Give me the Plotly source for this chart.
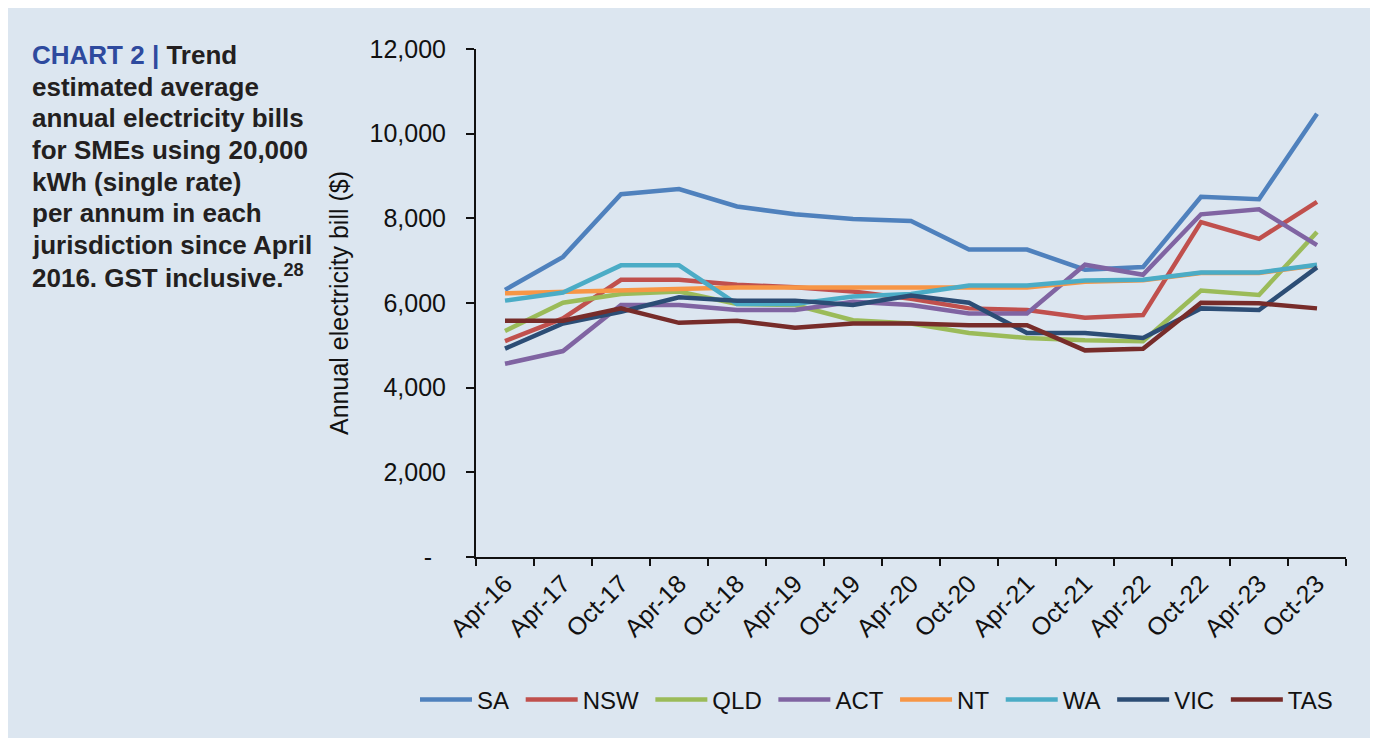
import plotly.graph_objects as go

categories = ["Apr-16", "Apr-17", "Oct-17", "Apr-18", "Oct-18", "Apr-19", "Oct-19", "Apr-20",
              "Oct-20", "Apr-21", "Oct-21", "Apr-22", "Oct-22", "Apr-23", "Oct-23"]

sa  = [6310, 7090, 8570, 8690, 8280, 8095, 7985, 7936, 7262, 7262, 6786, 6849, 8508, 8452, 10470]
nsw = [5100, 5635, 6548, 6548, 6430, 6373, 6270, 6100, 5873, 5833, 5651, 5714, 7913, 7516, 8389]
qld = [5340, 6008, 6214, 6270, 5976, 5952, 5595, 5516, 5293, 5175, 5119, 5095, 6294, 6190, 7675]
act = [4564, 4865, 5952, 5952, 5833, 5833, 6032, 5952, 5754, 5754, 6905, 6667, 8095, 8214, 7365]
nt  = [6230, 6270, 6310, 6326, 6365, 6365, 6365, 6365, 6365, 6365, 6500, 6540, 6710, 6710, 6890]
wa  = [6056, 6246, 6889, 6889, 5976, 5976, 6151, 6214, 6413, 6413, 6532, 6548, 6722, 6722, 6905]
vic = [4921, 5516, 5794, 6135, 6056, 6056, 5952, 6175, 6008, 5293, 5293, 5175, 5873, 5833, 6841]
tas = [5579, 5579, 5873, 5532, 5579, 5413, 5516, 5516, 5476, 5476, 4881, 4921, 6008, 5992, 5873]

series = [("SA", sa, "#4f81bd"), ("NSW", nsw, "#c0504d"), ("QLD", qld, "#9bbb59"),
          ("ACT", act, "#8064a2"), ("NT", nt, "#f79646"), ("WA", wa, "#4bacc6"),
          ("VIC", vic, "#2c4d75"), ("TAS", tas, "#772c2a")]

y_ticks = [0, 2000, 4000, 6000, 8000, 10000, 12000]
y_ticktext = ["-\u00a0\u00a0", "2,000", "4,000", "6,000", "8,000", "10,000", "12,000"]

title_lines = ["<span style='color:#2e4a9e'>CHART 2 | </span>Trend",
               "estimated average",
               "annual electricity bills",
               "for SMEs using 20,000",
               "kWh (single rate)",
               "per annum in each",
               "jurisdiction since April",
               "2016. GST inclusive.<sup>28</sup>"]

BG = "#dce6f0"
FONT = "Liberation Sans"
INK = "#111111"

W, H = 1370, 730
L, R, T, B = 468, 32, 41, 181
PH = H - T - B
PW = W - L - R

fig = go.Figure()
for name, vals, color in series:
    # trailing no-break space widens the legend gap to match the reference spacing
    fig.add_trace(go.Scatter(x=categories, y=vals, name=name + "\u00a0", mode="lines",
                             line=dict(color=color, width=4.5)))

fig.update_layout(
    width=W, height=H,
    paper_bgcolor=BG, plot_bgcolor=BG,
    margin=dict(l=L, r=R, t=T, b=B, autoexpand=False),
    font=dict(family=FONT, color=INK, size=24),
    showlegend=True,
    legend=dict(orientation="h", xref="paper", yref="paper",
                x=(407 - L) / PW, xanchor="left", y=(H - B - 692) / PH, yanchor="middle",
                font=dict(size=24, color=INK), bgcolor="rgba(0,0,0,0)",
                itemwidth=52, tracegroupgap=0),
    xaxis=dict(type="category", showgrid=False, zeroline=False, showline=True,
               linecolor=INK, linewidth=2, ticks="outside", ticklen=7,
               tickcolor=INK, tickwidth=1.5, tickson="boundaries",
               tickangle=-45, tickfont=dict(size=25, color=INK),
               range=[-0.5, 14.5], automargin=False),
    yaxis=dict(range=[0, 12000], showgrid=False, zeroline=False, showline=True,
               linecolor=INK, linewidth=2, ticks="outside", ticklen=8,
               tickcolor=INK, tickwidth=1.5, tickvals=y_ticks, ticktext=y_ticktext,
               tickfont=dict(size=25, color=INK), ticklabelstandoff=15, automargin=False,
               title=dict(text="Annual electricity bill ($)", font=dict(size=25, color=INK),
                          standoff=14)),
)

# title block, one annotation per line to match the line spacing
x_left = (22 - L) / PW
for i, line in enumerate(title_lines):
    baseline_page = 63.3 + i * 31.6
    center_fig = baseline_page - 8 - 8
    fig.add_annotation(text="<b>" + line + "</b>", xref="paper", yref="paper",
                       x=x_left, y=(H - B - center_fig) / PH, xanchor="left", yanchor="middle",
                       align="left", showarrow=False,
                       font=dict(family=FONT, size=26, color="#231f20"))

fig.write_html("out.html")
